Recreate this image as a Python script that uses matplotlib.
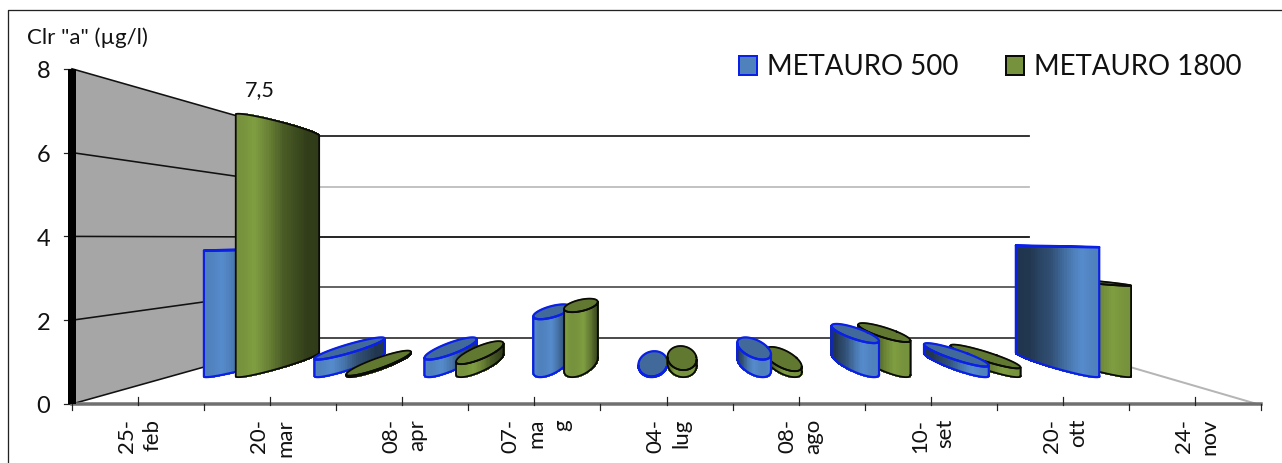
import numpy as np
import matplotlib
matplotlib.use("Agg")
import matplotlib.pyplot as plt
from matplotlib.colors import to_rgb
from matplotlib.patches import Rectangle

plt.rcParams["font.family"] = ["Lato", "DejaVu Sans"]

# ── Data ───────────────────────────────────────────────────────────────────────
categories = ["25-\nfeb", "20-\nmar", "08-\napr", "07-\nma\ng", "04-\nlug",
              "08-\nago", "10-\nset", "20-\nott", "24-\nnov"]
metauro_500 = [3.6, 0.5, 0.5, 1.65, 0.02, 0.5, 0.97, 0.3, 3.7]
metauro_1800 = [7.5, 0.04, 0.37, 1.85, 0.2, 0.17, 1.0, 0.25, 2.6]
y_ticks = [0, 2, 4, 6, 8]
series_names = ["METAURO 500", "METAURO 1800"]
title_text = 'Clr "a" (µg/l)'

# ── Config: fake 3D perspective, in pixels of the figure ───────────────────────
W, H = 1282, 464
VP_X, VP_Y = 667.5, 239   # vanishing point
FRONT_Y0 = 405            # y of value 0 on the front plane
PX_PER_UNIT = 41.9
AXIS_L, AXIS_R = 72, 1261
CAT_W = (AXIS_R - AXIS_L) / len(categories)
BAR_R = 19                # cylinder radius along the x axis
DEPTH_MID, DEPTH_HALF = 1.326, 0.133   # in 1/scale
S_BACK = 0.6
X_STRETCH = 1.005

BLUE, BLUE_EDGE = "#4f81bd", "#0a1fe8"
GREEN, GREEN_EDGE = "#76923c", "#0a0a06"


def px(w):
    return w * 72 / 100


def project(xf, v, s):
    x = VP_X + (xf - (AXIS_L + AXIS_R) / 2) * s * X_STRETCH
    y = VP_Y + (FRONT_Y0 - PX_PER_UNIT * v - VP_Y) * s
    return x, y


def shade(color, f):
    return tuple(min(1, c * f) for c in to_rgb(color))


def draw_bar(ax, center, value, color, edge, z):
    theta = np.radians(np.arange(0, 360, 3))
    xf = center + BAR_R * np.cos(theta)
    front = np.sin(theta)              # 1 = facing the viewer
    s = 1 / (DEPTH_MID - DEPTH_HALF * front)
    xb, yb = project(xf, 0, s)
    xt, yt = project(xf, value, s)

    # visible arc: leftmost point to rightmost point through the front
    i0, i1 = np.argmin(xb), np.argmax(xb)
    n = len(theta)
    arc = [i1]
    while arc[-1] != i0:
        arc.append((arc[-1] + 1) % n)
    if front[arc].mean() < 0:
        arc = [i0]
        while arc[-1] != i1:
            arc.append((arc[-1] + 1) % n)

    for a, b in zip(arc[:-1], arc[1:]):
        f = np.interp(front[a], [-1, -0.3, 0.3, 0.85, 1], [0.4, 0.42, 0.62, 1.08, 1.0])
        ax.fill([xb[a], xb[b], xt[b], xt[a]], [yb[a], yb[b], yt[b], yt[a]],
                color=shade(color, f), lw=1, antialiased=False, zorder=z)

    lw = px(2.2) if color == BLUE else px(1.8)
    ax.plot(np.r_[xb[arc], xt[arc][::-1], xb[arc][0]],
            np.r_[yb[arc], yt[arc][::-1], yb[arc][0]],
            color=edge, lw=lw, zorder=z + 0.2)

    if yt.mean() > VP_Y:   # below eye level, top cap can be seen
        ax.fill(xt, yt, color=shade(color, 0.82), zorder=z + 0.1)
        ax.plot(np.r_[xt, xt[0]], np.r_[yt, yt[0]], color=edge, lw=lw, zorder=z + 0.2)


# ── Figure ─────────────────────────────────────────────────────────────────────
fig = plt.figure(figsize=(W / 100, H / 100), dpi=100)
ax = fig.add_axes([0, 0, 1, 1])
ax.set_xlim(0, W)
ax.set_ylim(H, 0)
ax.axis("off")

# chart frame, only top and left are inside the crop
ax.plot([8, 8, W], [H, 11, 11], color="#222222", lw=px(1.3), zorder=1)

# left wall + gridlines
top = y_ticks[-1]
wall_x = [AXIS_L, project(AXIS_L, top, S_BACK)[0], project(AXIS_L, 0, S_BACK)[0], AXIS_L]
wall_y = [FRONT_Y0 - PX_PER_UNIT * top, project(AXIS_L, top, S_BACK)[1],
          project(AXIS_L, 0, S_BACK)[1], FRONT_Y0]
ax.fill(wall_x, wall_y, color="#a6a6a6", lw=0, zorder=2)

grid_cols = {0: "#3a3a3a", 2: "#555555", 4: "#111111", 6: "#bdbdbd", 8: "#222222"}
for v in y_ticks:
    bx, by = project(AXIS_L, v, S_BACK)
    rx, _ = project(AXIS_R + 5, v, S_BACK)
    ax.plot([AXIS_L, bx], [FRONT_Y0 - PX_PER_UNIT * v, by], color="#111111", lw=px(1.6), zorder=3)
    ax.plot([bx, rx], [by, by], color=grid_cols[v], lw=px(1.8), zorder=3)
    ax.plot([AXIS_L - 8, AXIS_L], [FRONT_Y0 - PX_PER_UNIT * v] * 2, color="#222222", lw=px(1.2), zorder=3)
    ax.text(AXIS_L - 22, FRONT_Y0 - PX_PER_UNIT * v + 2, str(v), ha="right", va="center",
            fontsize=17, color="#111111")

# right floor edge
bx, by = project(AXIS_R + 5, 0, S_BACK)
ax.plot([bx, AXIS_R - 4], [by, FRONT_Y0], color="#b5b5b5", lw=px(2), zorder=3)

# front axis, labelled ticks go up, the others down
ax.plot([AXIS_L, AXIS_R], [FRONT_Y0, FRONT_Y0], color="#707070", lw=px(3.5), zorder=3)
for i in range(len(categories) * 2 + 1):
    x = AXIS_L + i * CAT_W / 2
    y0, y1 = (398, 406) if i % 2 else (405, 411)
    ax.plot([x, x], [y0, y1], color="#222222", lw=px(1.2), zorder=3.5)

ax.plot([AXIS_L, AXIS_L], [FRONT_Y0 - PX_PER_UNIT * top, FRONT_Y0], color="black", lw=px(8),
        solid_capstyle="butt", zorder=4)

for i, lab in enumerate(categories):
    ax.text(AXIS_L + (i + 0.5) * CAT_W + 2, 419, lab, rotation=90, ha="center", va="top",
            multialignment="right", linespacing=1.35, fontsize=16, color="#111111")

# bars, outer groups first so the inner ones sit on top
mid = (len(categories) - 1) / 2
for rank, i in enumerate(sorted(range(len(categories)), key=lambda k: -abs(k - mid))):
    c = AXIS_L + (i + 0.5) * CAT_W
    pair = [(c - BAR_R, metauro_500[i], BLUE, BLUE_EDGE),
            (c + BAR_R, metauro_1800[i], GREEN, GREEN_EDGE)]
    if i > mid:
        pair = pair[::-1]
    for k, (cx, v, col, ed) in enumerate(pair):
        draw_bar(ax, cx, v, col, ed, 5 + rank + k * 0.4)

# data label of the tallest bar
peak = int(np.argmax(metauro_1800))
lx, ly = project(AXIS_L + (peak + 0.5) * CAT_W + BAR_R, metauro_1800[peak], 1 / (DEPTH_MID - DEPTH_HALF))
ax.text(lx + 21, ly - 25, f"{metauro_1800[peak]}".replace(".", ","), ha="center", va="center",
        fontsize=15.5, color="#111111")

ax.text(27, 38, title_text, ha="left", va="center", fontsize=16, color="#111111")

# legend
legend_x = [(739, 767), (1006, 1034)]
for (sq, tx), name, col, ed in zip(legend_x, series_names, [BLUE, GREEN], [BLUE_EDGE, GREEN_EDGE]):
    ax.add_patch(Rectangle((sq, 57), 18, 19, fc=col, ec=ed, lw=px(2), zorder=3))
    ax.text(tx, 67, name, ha="left", va="center", fontsize=19.9, color="#111111")

fig.savefig("out.png", dpi=100)
